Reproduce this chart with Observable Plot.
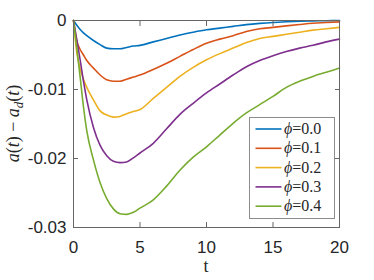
<!DOCTYPE html>
<html><head><meta charset="utf-8">
<script src="https://cdn.jsdelivr.net/npm/d3@7"></script>
<script src="https://cdn.jsdelivr.net/npm/@observablehq/plot@0.6"></script>
<style>
body{margin:0;background:#fff;}
#wrap{position:relative;width:374px;height:280px;overflow:hidden;}
#legend{position:absolute;left:249px;top:117px;}
</style>
</head><body>
<div id="wrap"><div id="chart"></div><div id="legend"></div></div>
<script>
const t = [0,0.25,0.5,0.75,1,1.5,2,2.5,3,3.5,4,4.5,5,6,7,8,9,10,11,12,13,14,15,16,17,18,19,20];
const phiLabels = ["0.0","0.1","0.2","0.3","0.4"];
const colors = ["#0072BD","#D95319","#EDB120","#7E2F8E","#77AC30"];
const v00 = [0,-0.0007,-0.0013,-0.0018,-0.0022,-0.0029,-0.0035,-0.004,-0.0041,-0.0041,-0.0039,-0.0037,-0.0036,-0.0031,-0.0026,-0.0021,-0.0017,-0.00135,-0.0011,-0.00085,-0.0006,-0.00042,-0.00028,-0.00018,-0.0001,-0.00006,-0.00003,-0.00001];
const v01 = [0,-0.003,-0.0042,-0.005,-0.0058,-0.0069,-0.0079,-0.0086,-0.0088,-0.0088,-0.0085,-0.0082,-0.0079,-0.0071,-0.0062,-0.0052,-0.0042,-0.0033,-0.0027,-0.0022,-0.0016,-0.0012,-0.001,-0.00078,-0.00058,-0.0004,-0.0003,-0.0002];
const v02 = [0,-0.0047,-0.007,-0.0085,-0.0097,-0.0115,-0.0131,-0.0137,-0.014,-0.0139,-0.0135,-0.0132,-0.0129,-0.0113,-0.0097,-0.0081,-0.0068,-0.0057,-0.0048,-0.004,-0.0032,-0.0026,-0.0023,-0.002,-0.0017,-0.0014,-0.0012,-0.001];
const v03 = [0,-0.0028,-0.0057,-0.0088,-0.0115,-0.0155,-0.0181,-0.0196,-0.0204,-0.0206,-0.0205,-0.0199,-0.0192,-0.0178,-0.0157,-0.0136,-0.012,-0.0105,-0.0092,-0.0079,-0.0067,-0.0058,-0.0051,-0.0045,-0.004,-0.0036,-0.0031,-0.0027];
const v04 = [0,-0.004,-0.0082,-0.0125,-0.016,-0.0202,-0.0235,-0.0258,-0.0273,-0.028,-0.0281,-0.0278,-0.0272,-0.026,-0.024,-0.0217,-0.0198,-0.0183,-0.0166,-0.0149,-0.0134,-0.0122,-0.011,-0.0097,-0.0088,-0.0081,-0.0075,-0.0069];
const xTicks = [0,5,10,15,20];
const yTicks = [0,-0.01,-0.02,-0.03];
const yTickLabels = ["0","-0.01","-0.02","-0.03"];

const seriesVals = [v00,v01,v02,v03,v04];
const rows = [];
seriesVals.forEach((vals,i)=>vals.forEach((v,j)=>rows.push({t:t[j], v, s:phiLabels[i]})));

const chart = Plot.plot({
  width:374, height:280,
  marginLeft:73, marginRight:35, marginTop:20, marginBottom:53,
  style:{background:"#fff", color:"#262626", overflow:"visible", fontFamily:"'Liberation Sans', Arial, sans-serif"},
  x:{domain:[0,20]},
  y:{domain:[-0.03,0]},
  color:{domain:phiLabels, range:colors},
  marks:[
    Plot.line(rows,{x:"t", y:"v", stroke:"s", strokeWidth:1.6, curve:"monotone-x"}),
    Plot.frame({stroke:"#666", strokeWidth:1}),
    Plot.axisX(xTicks,{anchor:"bottom", tickSize:-5, tickPadding:18, label:null, stroke:"#666", fill:"#262626", fontSize:17}),
    Plot.axisX(xTicks,{anchor:"top", tickSize:-5, tickFormat:()=>"", label:null, stroke:"#666"}),
    Plot.axisY(yTicks,{anchor:"left", tickSize:-5, tickPadding:12, label:null, stroke:"#666", fill:"#262626", fontSize:17, tickFormat:(d)=>yTickLabels[yTicks.indexOf(d)]}),
    Plot.axisY(yTicks,{anchor:"right", tickSize:-5, tickFormat:()=>"", label:null, stroke:"#666"})
  ]
});
document.getElementById("chart").appendChild(chart);

const serif = "'Liberation Serif', serif";
const svg = d3.select(chart);
// x label
svg.append("text").attr("x",206).attr("y",271.5).attr("text-anchor","middle")
  .style("font-family",serif).style("font-size","18px").attr("fill","#262626").text("t");
// y label
const yl = svg.append("text").attr("transform","translate(19,123.5) rotate(-90)")
  .attr("text-anchor","middle").style("font-family",serif).style("font-size","18px").attr("fill","#262626");
yl.append("tspan").style("font-style","italic").text("a");
yl.append("tspan").text("(");
yl.append("tspan").style("font-style","italic").text("t");
yl.append("tspan").text(") \u2212 ");
yl.append("tspan").style("font-style","italic").text("a");
yl.append("tspan").style("font-style","italic").style("font-size","13px").attr("dy",4).text("d");
yl.append("tspan").attr("dy",-4).text("(");
yl.append("tspan").style("font-style","italic").text("t");
yl.append("tspan").text(")");

// legend
const lg = d3.select("#legend").append("svg").attr("width",86).attr("height",102);
lg.append("rect").attr("x",0.5).attr("y",0.5).attr("width",85).attr("height",101)
  .attr("fill","#fff").attr("stroke","#8c8c8c").attr("stroke-width",1);
phiLabels.forEach((p,i)=>{
  const cy = 12 + i*19.3;
  lg.append("line").attr("x1",6.5).attr("x2",32.5).attr("y1",cy).attr("y2",cy)
    .attr("stroke",colors[i]).attr("stroke-width",1.6);
  const tx = lg.append("text").attr("x",35).attr("y",cy+5)
    .style("font-family",serif).style("font-size","16px").attr("fill","#262626");
  tx.append("tspan").style("font-style","italic").text("\u03D5");
  tx.append("tspan").text("=" + p);
});
</script>
</body></html>
